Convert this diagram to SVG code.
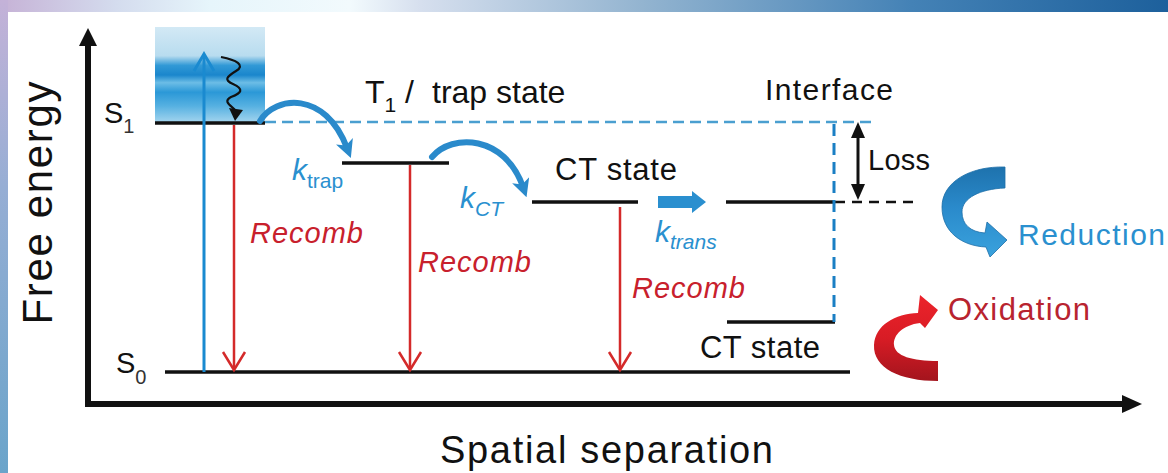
<svg xmlns="http://www.w3.org/2000/svg" width="1168" height="473" viewBox="0 0 1168 473">
<defs>
<linearGradient id="topband" x1="0" y1="0" x2="1" y2="0">
<stop offset="0" stop-color="#c6b2d6"/>
<stop offset="0.1" stop-color="#d4dcee"/>
<stop offset="0.18" stop-color="#e6f5fb"/>
<stop offset="0.3" stop-color="#f2fafd"/>
<stop offset="0.36" stop-color="#d6dfee"/>
<stop offset="0.55" stop-color="#93b4d0"/>
<stop offset="0.78" stop-color="#4482b6"/>
<stop offset="1" stop-color="#1d609c"/>
</linearGradient>
<linearGradient id="leftband" x1="0" y1="0" x2="0" y2="1">
<stop offset="0" stop-color="#c4b2d8"/>
<stop offset="0.4" stop-color="#96aed4"/>
<stop offset="1" stop-color="#6aa4ca"/>
</linearGradient>
<linearGradient id="s1box" x1="0" y1="0" x2="0" y2="1">
<stop offset="0" stop-color="#d3e9f5"/>
<stop offset="0.3" stop-color="#b8dcef"/>
<stop offset="0.4" stop-color="#3199d6"/>
<stop offset="0.5" stop-color="#1a86cc"/>
<stop offset="0.58" stop-color="#6cbde6"/>
<stop offset="0.68" stop-color="#2b98d7"/>
<stop offset="0.82" stop-color="#55b0e1"/>
<stop offset="1" stop-color="#a6d6ef"/>
</linearGradient>
<linearGradient id="blueRib" x1="0" y1="0" x2="0" y2="1">
<stop offset="0" stop-color="#1e72ad"/>
<stop offset="0.45" stop-color="#2a8acb"/>
<stop offset="1" stop-color="#3aa2dd"/>
</linearGradient>
<linearGradient id="redRib" x1="0" y1="0" x2="0" y2="1">
<stop offset="0" stop-color="#ec232b"/>
<stop offset="0.5" stop-color="#d81c25"/>
<stop offset="1" stop-color="#a3141d"/>
</linearGradient>
<marker id="bhead" viewBox="0 0 10 10" refX="4" refY="5" markerWidth="18" markerHeight="18" markerUnits="userSpaceOnUse" orient="auto">
<path d="M0,0 L10,5 L0,10 L2.5,5 Z" fill="#2a8acb"/>
</marker>
<style>
.lvl{stroke:#111;stroke-width:3.5;fill:none}
.rec{stroke:#d42a2a;stroke-width:2.5;fill:none}
.curv{stroke:#2a8acb;stroke-width:6;fill:none;stroke-linecap:round}
.t{font-family:"Liberation Sans",Arial,sans-serif;fill:#111}
.red{font-family:"Liberation Sans",Arial,sans-serif;fill:#c8202c;font-style:italic}
.blu{font-family:"Liberation Sans",Arial,sans-serif;fill:#2a90cf}
</style>
</defs>

<g id="background">
<rect x="0" y="0" width="1168" height="473" fill="url(#topband)"/>
<rect x="0" y="0" width="8" height="473" fill="url(#leftband)"/>
<rect x="8" y="12" width="1160" height="461" fill="#ffffff"/>
</g>

<g id="axes">
<path d="M88,44 L88,404 L1124,404" stroke="#111" stroke-width="6" fill="none" stroke-linejoin="miter"/>
<path d="M79,46 L88,28 L97,46 Z" fill="#111"/>
<path d="M1122,395 L1142,404 L1122,413 Z" fill="#111"/>
<text class="t" font-size="42" text-anchor="middle" textLength="243" transform="translate(52,203) rotate(-90)">Free energy</text>
<text class="t" font-size="38" x="440" y="463" textLength="333">Spatial separation</text>
</g>

<g id="S1">
<rect x="155" y="27" width="110" height="96" fill="url(#s1box)"/>
<line x1="155" y1="123" x2="265" y2="123" class="lvl"/>
<text class="t" font-size="29" x="104" y="123">S<tspan font-size="20" dy="10" fill="#333">1</tspan></text>
</g>

<g id="S0">
<line x1="165" y1="372" x2="850" y2="372" class="lvl"/>
<text class="t" font-size="29" x="116" y="373">S<tspan font-size="20" dy="11" fill="#333">0</tspan></text>
</g>

<g id="T1">
<line x1="342" y1="163" x2="449" y2="163" class="lvl"/>
<text class="t" font-size="32" x="365" y="103">T<tspan font-size="21" dy="9">1</tspan><tspan x="405" dy="-9">/</tspan><tspan x="432">trap state</tspan></text>
</g>

<g id="CT1">
<line x1="532" y1="202" x2="638" y2="202" class="lvl"/>
<text class="t" font-size="31" x="555" y="180" textLength="122">CT state</text>
</g>

<g id="interface-level">
<line x1="726" y1="202" x2="835" y2="202" class="lvl"/>
<line x1="835" y1="202" x2="916" y2="202" stroke="#111" stroke-width="2.5" stroke-dasharray="10 7"/>
<text class="t" font-size="30" x="765" y="100" textLength="128">Interface</text>
</g>

<g id="CT2">
<line x1="727" y1="322" x2="835" y2="322" class="lvl"/>
<text class="t" font-size="31" x="700" y="358" textLength="120">CT state</text>
</g>

<g id="loss">
<line x1="858" y1="134" x2="858" y2="188" stroke="#111" stroke-width="3"/>
<path d="M851,138 L858,122 L865,138 Z" fill="#111"/>
<path d="M851,184 L858,200 L865,184 Z" fill="#111"/>
<text class="t" font-size="29" x="868" y="170" textLength="62">Loss</text>
</g>

<g id="reduction">
<path d="M1005,167 C970,166 942,182 942,207 C942,232 962,246 986,247 L990,257 L1007,240 L987,222 L985,233 C970,232 962,224 962,212 C962,198 980,189 1005,188 Z" fill="url(#blueRib)" stroke="#1d6ea8" stroke-width="0.8"/>
<text class="blu" font-size="30" x="1018" y="245" textLength="147">Reduction</text>
</g>

<g id="oxidation">
<path d="M938,381 C900,381 873,368 874,345 C875,325 895,314 918,313 L920,295 L938,310 L925,328 L920,323 C903,325 893,335 894,345 C895,356 912,361 938,361 Z" fill="url(#redRib)"/>
<text font-family="Liberation Sans, Arial, sans-serif" fill="#b8232f" font-size="31" x="948" y="320" textLength="142">Oxidation</text>
</g>

<g id="connectors">
<line x1="265" y1="122" x2="873" y2="122" stroke="#4a9fd0" stroke-width="2.5" stroke-dasharray="11 6"/>
<line x1="834" y1="124" x2="834" y2="322" stroke="#1a7fc4" stroke-width="3" stroke-dasharray="12 7"/>
<line x1="204" y1="372" x2="204" y2="55" stroke="#1a8ad0" stroke-width="3"/>
<path d="M194,71 L204,54 L214,71" stroke="#1a8ad0" stroke-width="3" fill="none"/>
<path d="M221,57 C236,60 246,65 236,71 C226,77 224,80 233,84 C244,89 242,93 231,97 C222,102 232,106 235,110" stroke="#111" stroke-width="2.2" fill="none"/>
<path d="M229,108 L243,110 L235,121 Z" fill="#111"/>
<line x1="234" y1="125" x2="234" y2="369" class="rec"/>
<path d="M223,352 L234,370 L245,352" class="rec"/>
<line x1="410" y1="165" x2="410" y2="369" class="rec"/>
<path d="M399,352 L410,370 L421,352" class="rec"/>
<line x1="620" y1="207" x2="620" y2="369" class="rec"/>
<path d="M609,352 L620,370 L631,352" class="rec"/>
<path d="M260,121 C275,96 325,90 347,148" class="curv" marker-end="url(#bhead)"/>
<path d="M432,157 C452,133 505,135 523,187" class="curv" marker-end="url(#bhead)"/>
<path d="M658,196 L692,196 L692,191 L706,202 L692,213 L692,208 L658,208 Z" fill="#2a8fcf"/>
</g>

<g id="labels">
<text class="red" font-size="29" x="250" y="243" textLength="113">Recomb</text>
<text class="red" font-size="29" x="418" y="272" textLength="113">Recomb</text>
<text class="red" font-size="29" x="632" y="298" textLength="113">Recomb</text>
<text class="blu" font-size="30" x="292" y="180"><tspan font-style="italic">k</tspan><tspan font-size="21" dy="8">trap</tspan></text>
<text class="blu" font-size="30" x="460" y="208"><tspan font-style="italic">k</tspan><tspan font-size="21" dy="8" font-style="italic">CT</tspan></text>
<text class="blu" font-size="30" x="655" y="242"><tspan font-style="italic">k</tspan><tspan font-size="21" dy="7" font-style="italic">trans</tspan></text>
</g>
</svg>
